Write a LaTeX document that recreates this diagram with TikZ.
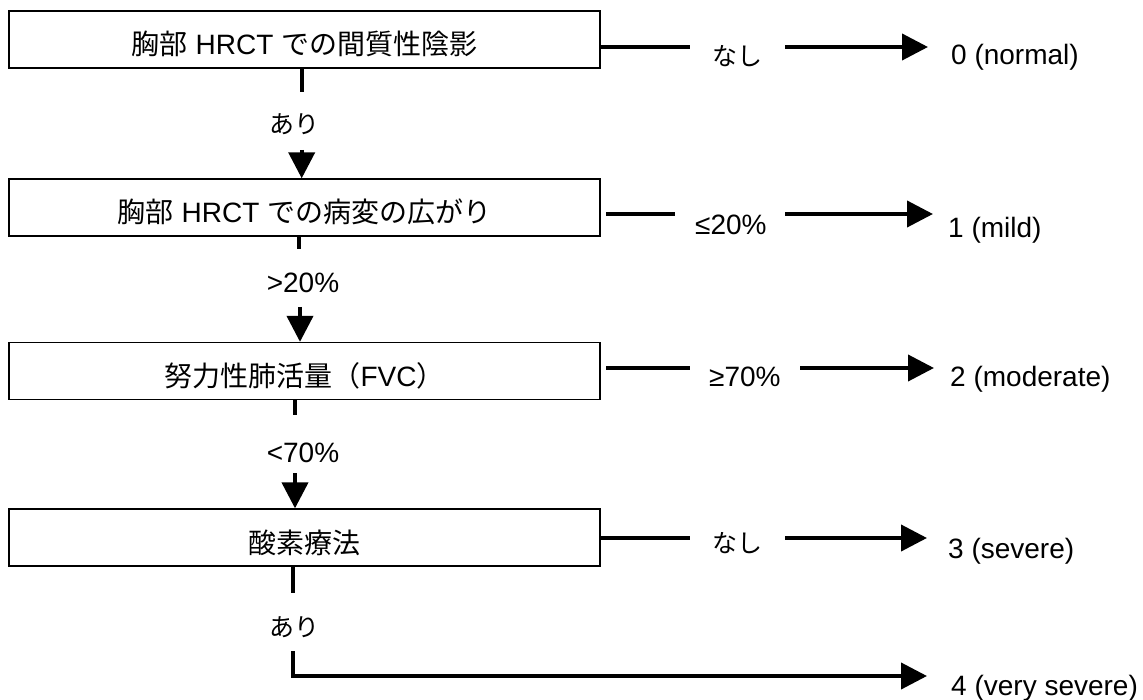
\documentclass[tikz,border=0pt]{standalone}
\usepackage{fontspec}
\setmainfont{Liberation Sans}
\newfontfamily\jp{Noto Sans CJK JP}
\usetikzlibrary{arrows.meta}
\begin{document}
\begin{tikzpicture}[x=1pt,y=-1pt,
  box/.style={draw, line width=1.3pt, minimum width=591pt, minimum height=57pt, inner sep=0pt,
              text height=31pt, text depth=0pt, font=\fontsize{28pt}{32pt}\selectfont},
  conn/.style={line width=4pt},
  arr/.style={line width=4pt, line join=miter, -{Triangle[length=26pt,width=26pt]}},
  lab/.style={font=\fontsize{28pt}{32pt}\selectfont, inner sep=0pt},
  jlab/.style={font=\jp\fontsize{25pt}{30pt}\selectfont, inner sep=0pt},
  res/.style={font=\fontsize{28pt}{32pt}\selectfont, inner sep=0pt, anchor=base west}]
\useasboundingbox (0,0) rectangle (1143,700);

% boxes
\node[box] (b1) at (304.5,39.5) {{\jp 胸部} HRCT {\jp での間質性陰影}};
\node[box] (b2) at (304.5,207.5) {{\jp 胸部} HRCT {\jp での病変の広がり}};
\node[box] (b3) at (304.5,371) {{\jp 努力性肺活量（}FVC{\jp ）}};
\node[box] (b4) at (304.5,537.5) {{\jp 酸素療法}};

% branch labels
\node[jlab] (l1) at (737.5,56) {なし};
\node[lab, anchor=base west] (l2) at (695,235) {≤20\%};
\node[lab, anchor=base west] (l3) at (709,387) {≥70\%};
\node[jlab] (l4) at (737.5,543) {なし};
\node[jlab] (v1) at (294.5,124) {あり};
\node[lab, anchor=base] (v2) at (303,293) {>20\%};
\node[lab, anchor=base] (v3) at (303,462) {<70\%};
\node[jlab] (v4) at (294,627) {あり};

% results
\node[res] (r1) at (951,65) {0 (normal)};
\node[res] (r2) at (948,238) {1 (mild)};
\node[res] (r3) at (950,387) {2 (moderate)};
\node[res] (r4) at (948,558) {3 (severe)};
\node[res] (r5) at (951,695) {4 (very severe)};

% right branches
\coordinate (p1) at (690,47);  \coordinate (q1) at (785,47);  \coordinate (t1) at (928,47);
\coordinate (e2) at (606,214); \coordinate (p2) at (675,214); \coordinate (q2) at (785,214); \coordinate (t2) at (933,214);
\coordinate (e3) at (606,368); \coordinate (p3) at (689.5,368); \coordinate (q3) at (800,368); \coordinate (t3) at (934,368);
\coordinate (p4) at (690,538); \coordinate (q4) at (785,538); \coordinate (t4) at (927,538);
\coordinate (t5) at (927,676);

\draw[conn] (b1.east |- p1) -- (p1);
\draw[arr] (q1) -- (t1);
\draw[conn] (e2) -- (p2);
\draw[arr] (q2) -- (t2);
\draw[conn] (e3) -- (p3);
\draw[arr] (q3) -- (t3);
\draw[conn] (b4.east |- p4) -- (p4);
\draw[arr] (q4) -- (t4);

% vertical flow
\coordinate (s1) at (301.7,92);  \coordinate (a1) at (301.7,150);
\coordinate (s2) at (299,249);   \coordinate (a2) at (300,307);
\coordinate (s3) at (295,415);   \coordinate (a3) at (295,473);
\coordinate (s4) at (293,593);   \coordinate (a4) at (293,651);

\draw[conn] (b1.south -| s1) -- (s1);
\draw[arr] (a1) -- (b2.north -| a1);
\draw[conn] (b2.south -| s2) -- (s2);
\draw[arr] (a2) -- (b3.north -| a2);
\draw[conn] (b3.south -| s3) -- (s3);
\draw[arr] (a3) -- (b4.north -| a3);
\draw[conn] (b4.south -| s4) -- (s4);
\draw[arr] (a4) |- (t5);
\end{tikzpicture}
\end{document}
